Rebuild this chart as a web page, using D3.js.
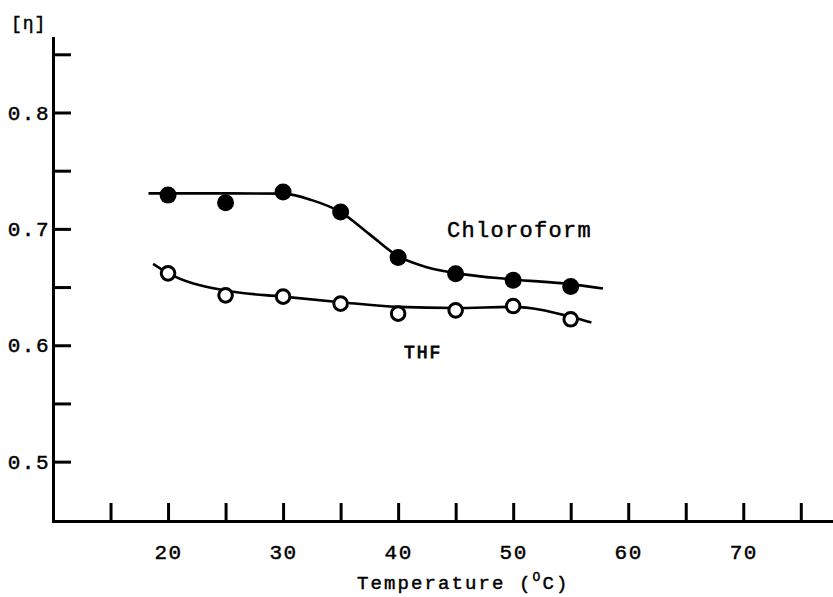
<!DOCTYPE html>
<html>
<head>
<meta charset="utf-8">
<script src="https://cdn.jsdelivr.net/npm/d3@7"></script>
<style>
  body { margin: 0; background: #fff; }
  text { font-family: "Liberation Mono", "DejaVu Sans Mono", monospace; fill: #000; stroke: #000; stroke-width: 0.45px; }
  .axis path, .axis line { stroke: #000; stroke-width: 3; }
  .axis text { font-size: 21px; letter-spacing: 1.5px; }
  .curve { fill: none; stroke: #000; stroke-width: 2.6; }
</style>
</head>
<body>
<div id="vis"></div>
<script>

// measured points
var temps = [20, 25, 30, 35, 40, 45, 50, 55];
var chloroform = [0.729, 0.7225, 0.7316, 0.7144, 0.6755, 0.6615, 0.6558, 0.6504];
var thf = [0.6618, 0.6429, 0.6418, 0.6358, 0.6272, 0.630, 0.6337, 0.6223];

// hand drawn fit curves
var chloroformCurveT = [18.3, 20, 25, 30, 32.5, 35, 37.5, 40, 42.5, 45, 50, 55, 57.8];
var chloroformCurveV = [0.7305, 0.7305, 0.7305, 0.7303, 0.7247, 0.7144, 0.6955, 0.6765, 0.667, 0.662, 0.6565, 0.6525, 0.6487];
var thfCurveT = [18.7, 20, 25, 30, 35, 40, 45, 50, 55, 56.8];
var thfCurveV = [0.670, 0.662, 0.647, 0.6418, 0.637, 0.633, 0.632, 0.633, 0.6245, 0.6195];

var xTicks = [15, 20, 25, 30, 35, 40, 45, 50, 55, 60, 65, 70, 75];
var yTicks = [0.5, 0.55, 0.6, 0.65, 0.7, 0.75, 0.8, 0.85];

var width = 833, height = 597;

var svg = d3.select("#vis").append("svg")
  .attr("width", width)
  .attr("height", height);

var x = d3.scaleLinear().domain([10, 77.8]).range([53, 833]);
var y = d3.scaleLinear().domain([0.449, 0.864]).range([521, 38]);

var xAxis = d3.axisBottom(x)
  .tickValues(xTicks)
  .tickSizeInner(-18)
  .tickSizeOuter(0)
  .tickPadding(23)
  .tickFormat(function(d) { return d % 10 === 0 ? d : ""; });

var yAxis = d3.axisLeft(y)
  .tickValues(yTicks)
  .tickSizeInner(-18)
  .tickSizeOuter(0)
  .tickPadding(3)
  .tickFormat(function(d) { return Math.round(d * 100) % 10 === 0 ? d3.format(".1f")(d) : ""; });

svg.append("g")
  .attr("class", "axis")
  .attr("transform", "translate(0," + y.range()[0] + ")")
  .call(xAxis);

svg.append("g")
  .attr("class", "axis")
  .attr("transform", "translate(" + x.range()[0] + ",0)")
  .call(yAxis);

svg.selectAll(".axis .domain").attr("stroke-linecap", "square");

var line = d3.line()
  .x(function(d) { return x(d[0]); })
  .y(function(d) { return y(d[1]); })
  .curve(d3.curveMonotoneX);

svg.append("path")
  .attr("class", "curve")
  .attr("d", line(d3.zip(chloroformCurveT, chloroformCurveV)));

svg.append("path")
  .attr("class", "curve")
  .attr("d", line(d3.zip(thfCurveT, thfCurveV)));

svg.selectAll(".chl")
  .data(d3.zip(temps, chloroform)).enter()
  .append("circle")
  .attr("class", "chl")
  .attr("cx", function(d) { return x(d[0]); })
  .attr("cy", function(d) { return y(d[1]); })
  .attr("r", 8.5)
  .attr("fill", "#000");

svg.selectAll(".thf")
  .data(d3.zip(temps, thf)).enter()
  .append("circle")
  .attr("class", "thf")
  .attr("cx", function(d) { return x(d[0]); })
  .attr("cy", function(d) { return y(d[1]); })
  .attr("r", 6.8)
  .attr("fill", "#fff")
  .attr("stroke", "#000")
  .attr("stroke-width", 3);

// labels
svg.append("text")
  .attr("x", 447)
  .attr("y", 237)
  .style("font-size", "22px")
  .style("letter-spacing", "1.3px")
  .text("Chloroform");

svg.append("text")
  .attr("x", 404)
  .attr("y", 358)
  .style("font-size", "18px")
  .style("letter-spacing", "2px")
  .style("stroke-width", "0.8px")
  .text("THF");

svg.append("text")
  .attr("x", 11)
  .attr("y", 29)
  .style("font-size", "18px")
  .style("letter-spacing", "1px")
  .text("[η]");

var xt = svg.append("text")
  .attr("x", 357)
  .attr("y", 589)
  .style("font-size", "19px")
  .style("letter-spacing", "2.1px");
xt.append("tspan").text("Temperature (");
xt.append("tspan").attr("dy", -8).style("font-size", "13px").text("O");
xt.append("tspan").attr("dy", 8).text("C)");

</script>
</body>
</html>
